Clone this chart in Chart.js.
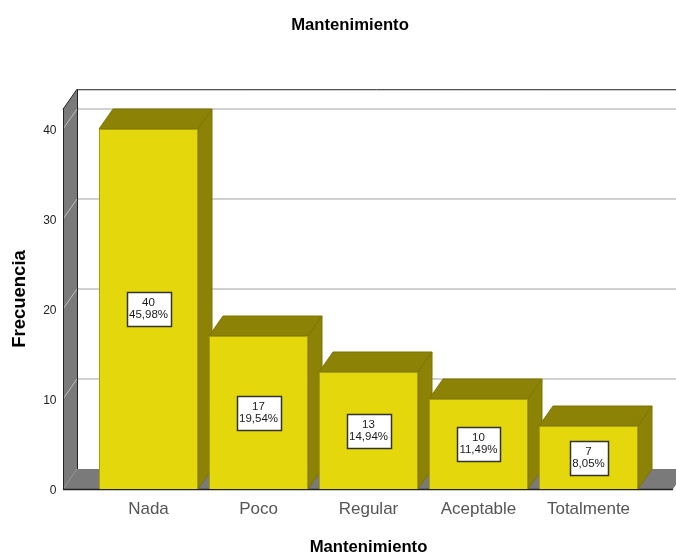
<!DOCTYPE html>
<html>
<head>
<meta charset="utf-8">
<style>html,body{margin:0;padding:0;background:#fff}#w{width:676px;height:554px}</style>
<script src="https://cdn.jsdelivr.net/npm/chart.js@4"></script>
</head>
<body>
<div id="w"><canvas id="c" width="676" height="554"></canvas></div>
<script>
const categories = ["Nada", "Poco", "Regular", "Aceptable", "Totalmente"];
const counts = [40, 17, 13, 10, 7];
const percents = ["45,98%", "19,54%", "14,94%", "11,49%", "8,05%"];
const yTicks = [0, 10, 20, 30, 40];
const chartTitle = "Mantenimiento";
const xTitle = "Mantenimiento";
const yTitle = "Frecuencia";

const FONT = '"Liberation Sans", Arial, sans-serif';
const WALL_DX = 14, WALL_DY = 20, BAR_DX = 14, BAR_DY = 20, WALL_TOP = 42.2, FLOOR_RIGHT = 673;

function poly(ctx, pts, fill, stroke) {
  ctx.beginPath();
  pts.forEach((p, i) => i ? ctx.lineTo(p[0], p[1]) : ctx.moveTo(p[0], p[1]));
  ctx.closePath();
  if (fill) { ctx.fillStyle = fill; ctx.fill(); }
  if (stroke) { ctx.strokeStyle = stroke; ctx.lineWidth = 1; ctx.stroke(); }
}
function line(ctx, x1, y1, x2, y2, color, w) {
  ctx.beginPath(); ctx.moveTo(x1, y1); ctx.lineTo(x2, y2);
  ctx.strokeStyle = color; ctx.lineWidth = w; ctx.stroke();
}

const scene3d = {
  id: "scene3d",
  afterLayout(chart) {
    chart.titleBlock.left = 24;
    chart.titleBlock.right = 676;
    const s = chart.scales.y;
    if (!s._shifted) {
      const orig = s.drawTitle;
      s.drawTitle = function () {
        this.ctx.save();
        this.ctx.translate(0, -10);
        orig.call(this);
        this.ctx.restore();
      };
      s._shifted = true;
    }
  },
  beforeDatasetsDraw(chart) {
    const ctx = chart.ctx, y = chart.scales.y, a = chart.chartArea;
    const fx = a.left - 30.5, bx = fx + WALL_DX, R = chart.width;
    const y0 = y.getPixelForValue(0), yt = y.getPixelForValue(WALL_TOP);
    ctx.save();
    poly(ctx, [[fx, y0], [bx, y0 - WALL_DY], [FLOOR_RIGHT + WALL_DX, y0 - WALL_DY], [FLOOR_RIGHT, y0]], "#7a7a7a");
    poly(ctx, [[fx, y0], [bx, y0 - WALL_DY], [bx, yt - WALL_DY], [fx, yt]], "#7a7a7a");
    yTicks.forEach(v => {
      if (v === 0) return;
      const p = y.getPixelForValue(v);
      line(ctx, bx, p - WALL_DY, R, p - WALL_DY, "#d0d0d0", 2);
      line(ctx, fx, p, bx, p - WALL_DY, "#bdbdbd", 1);
    });
    line(ctx, fx, y0, bx, y0 - WALL_DY, "#8f8f8f", 1);
    line(ctx, fx + 0.5, yt, fx + 0.5, y0, "#222", 1);
    line(ctx, bx + 0.5, yt - WALL_DY, bx + 0.5, y0 - WALL_DY, "#222", 1);
    line(ctx, fx, yt, bx, yt - WALL_DY, "#222", 1);
    line(ctx, bx, yt - WALL_DY + 0.5, R, yt - WALL_DY + 0.5, "#222", 1);
    line(ctx, fx, y0 + 0.5, FLOOR_RIGHT, y0 + 0.5, "#222", 1.5);
    chart.getDatasetMeta(0).data.forEach(b => {
      const l = b.x - b.width / 2, r = b.x + b.width / 2, t = b.y, bot = b.base;
      poly(ctx, [[l, t], [l + BAR_DX, t - BAR_DY], [r + BAR_DX, t - BAR_DY], [r, t]], "#8c8206", "#7d7405");
      poly(ctx, [[r, t], [r + BAR_DX, t - BAR_DY], [r + BAR_DX, bot - BAR_DY], [r, bot]], "#8c8206", "#7d7405");
    });
    ctx.restore();
  },
  afterDatasetsDraw(chart) {
    const ctx = chart.ctx;
    ctx.save();
    ctx.font = "11.5px " + FONT;
    ctx.textAlign = "center";
    ctx.textBaseline = "middle";
    chart.getDatasetMeta(0).data.forEach((b, i) => {
      const cx = b.x, cy = (b.y + b.base) / 2;
      const w = Math.round(ctx.measureText(percents[i]).width) + 5, h = 34;
      const x = Math.round(cx - w / 2) + 0.5, yy = Math.round(cy - h / 2) + 0.5;
      ctx.fillStyle = "#fff";
      ctx.fillRect(x, yy, w, h);
      ctx.strokeStyle = "#333";
      ctx.lineWidth = 1.5;
      ctx.strokeRect(x, yy, w, h);
      ctx.fillStyle = "#1a1a1a";
      ctx.fillText(String(counts[i]), cx, cy - 6);
      ctx.fillText(percents[i], cx, cy + 6);
    });
    ctx.restore();
  }
};

new Chart(document.getElementById("c"), {
  type: "bar",
  data: {
    labels: categories,
    datasets: [{
      data: counts,
      backgroundColor: "#e4d80c",
      borderColor: "#a89e08",
      borderWidth: 1,
      barPercentage: 0.9,
      categoryPercentage: 1
    }]
  },
  plugins: [scene3d],
  options: {
    responsive: false,
    animation: false,
    layout: { padding: { top: 0, bottom: 0, left: 0, right: 32.5 } },
    plugins: {
      legend: { display: false },
      tooltip: { enabled: false },
      title: {
        display: true,
        text: chartTitle,
        color: "#000",
        font: { family: FONT, size: 16.7, weight: "bold" },
        padding: { top: 15, bottom: 94 }
      }
    },
    scales: {
      x: {
        afterFit(s) { s.height = 65; },
        grid: { display: false },
        border: { display: false },
        ticks: { color: "#555", font: { family: FONT, size: 17 }, padding: 2, maxRotation: 0 },
        title: { display: true, text: xTitle, color: "#000", font: { family: FONT, size: 16.7, weight: "bold" }, padding: { top: 0, bottom: -3 } }
      },
      y: {
        min: 0,
        max: 40,
        afterFit(s) { s.width = 93.5; },
        grid: { display: false },
        border: { display: false },
        afterBuildTicks(s) { s.ticks = yTicks.map(v => ({ value: v })); },
        ticks: { color: "#222", font: { family: FONT, size: 12 }, padding: 29, labelOffset: 2 },
        title: { display: true, text: yTitle, color: "#000", font: { family: FONT, size: 18.5, weight: "bold" }, padding: { top: 9, bottom: 0 } }
      }
    }
  }
});
</script>
</body>
</html>
